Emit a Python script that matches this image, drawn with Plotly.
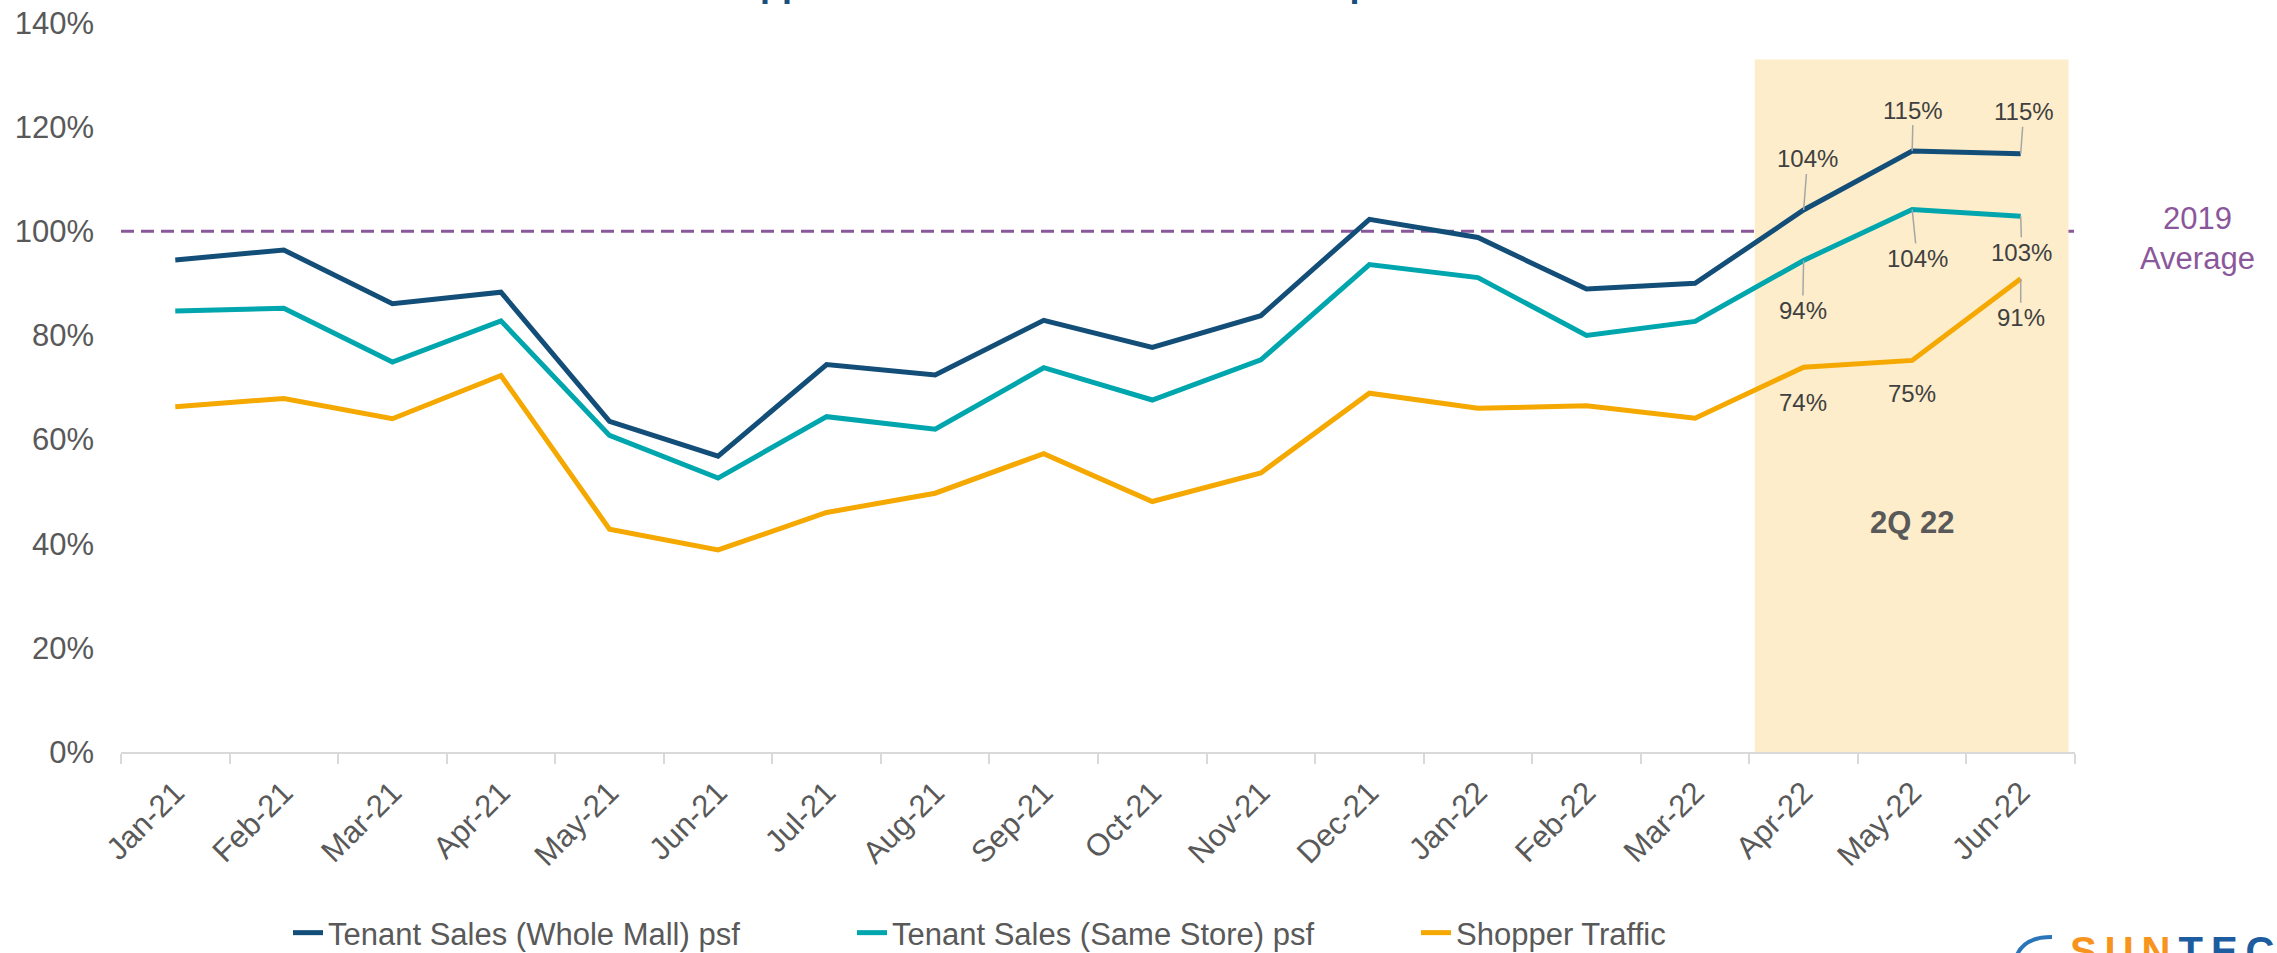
import plotly.graph_objects as go

# ---- data -------------------------------------------------------------
months = ["Jan-21", "Feb-21", "Mar-21", "Apr-21", "May-21", "Jun-21",
          "Jul-21", "Aug-21", "Sep-21", "Oct-21", "Nov-21", "Dec-21",
          "Jan-22", "Feb-22", "Mar-22", "Apr-22", "May-22", "Jun-22"]

# values as % of the 2019 monthly average
whole_mall = [94.5, 96.4, 86.1, 88.3, 63.5, 56.8, 74.4, 72.4, 82.9, 77.7,
              83.8, 102.3, 98.8, 88.9, 90.0, 104.1, 115.4, 114.9]
same_store = [84.7, 85.2, 74.9, 82.8, 60.8, 52.6, 64.4, 62.0, 73.8, 67.6,
              75.3, 93.6, 91.1, 80.0, 82.7, 94.4, 104.2, 102.9]
shopper_traffic = [66.3, 67.9, 64.0, 72.3, 42.8, 38.8, 46.0, 49.7, 57.3, 48.1,
                   53.6, 68.9, 66.0, 66.5, 64.1, 73.9, 75.2, 90.9]

average_2019 = 100
quarter_label = "2Q 22"
quarter_months = ["Apr-22", "May-22", "Jun-22"]

y_ticks = [0, 20, 40, 60, 80, 100, 120, 140]
y_tick_text = [f"{v}%" for v in y_ticks]

# ---- styling ----------------------------------------------------------
FONT = "Liberation Sans, Arial, sans-serif"
C_WHOLE = "#124E78"
C_SAME = "#00A6AD"
C_TRAFFIC = "#F5A800"
C_AVG = "#8B579B"
C_TEXT = "#595959"
C_LABEL = "#404040"
C_BAND = "#FDEDCB"

W, H = 2277, 953
M_L, M_R, M_T, M_B = 121, 202, 23, 201
PLOT_W = W - M_L - M_R
PLOT_H = H - M_T - M_B


def px_x(p):
    """pixel x -> paper x"""
    return (p - M_L) / PLOT_W


def px_y(p):
    """pixel y (from top) -> paper y"""
    return (H - M_B - p) / PLOT_H


series = [
    ("Tenant Sales (Whole Mall) psf", whole_mall, C_WHOLE),
    ("Tenant Sales (Same Store) psf", same_store, C_SAME),
    ("Shopper Traffic", shopper_traffic, C_TRAFFIC),
]

fig = go.Figure()
for name, vals, col in series:
    fig.add_trace(go.Scatter(
        x=months, y=vals, name=name, mode="lines",
        line=dict(color=col, width=5),
        hoverinfo="skip",
    ))

# value labels for the highlighted quarter: (ax, ay, leader line)
label_offsets = {
    "Tenant Sales (Whole Mall) psf": [(4, -51, True), (1, -41, True), (3, -42, True)],
    "Tenant Sales (Same Store) psf": [(-1, 50, True), (5, 49, True), (1, 36, True)],
    "Shopper Traffic": [(-1, 35, False), (0, 33, False), (0, 39, True)],
}

annotations = []
for name, vals, col in series:
    for m, (ax, ay, leader) in zip(quarter_months, label_offsets[name]):
        v = vals[months.index(m)]
        txt = f"{v:.0f}%"
        if leader:
            annotations.append(dict(
                x=m, y=v, xref="x", yref="y", text=txt,
                showarrow=True, arrowhead=0, arrowwidth=1.5,
                arrowcolor="#A6A6A6", ax=ax, ay=ay, standoff=0,
                font=dict(family=FONT, size=24, color=C_LABEL),
            ))
        else:
            annotations.append(dict(
                x=m, y=v, xref="x", yref="y", text=txt,
                showarrow=False, xshift=ax, yshift=-ay,
                font=dict(family=FONT, size=24, color=C_LABEL),
            ))

# 2019 average caption
annotations.append(dict(
    x=px_x(2197), y=average_2019, xref="paper", yref="y",
    xanchor="center", yanchor="middle",
    text="2019<br>Average", showarrow=False, yshift=-7,
    font=dict(family=FONT, size=31, color=C_AVG),
))

# quarter caption
annotations.append(dict(
    x="May-22", y=44, xref="x", yref="y", text=f"<b>{quarter_label}</b>",
    showarrow=False, font=dict(family=FONT, size=31, color=C_TEXT),
))

# chart heading (sits at the top edge of the page)
annotations.append(dict(
    x=px_x(690), y=px_y(-16), xref="paper", yref="paper",
    xanchor="left", yanchor="middle",
    text="<b>Shopper Traffic and Tenant Sales Comparison</b>",
    showarrow=False, font=dict(family=FONT, size=36, color="#1A4F7D"),
))

# brand mark, bottom right
annotations.append(dict(
    x=px_x(2068), y=px_y(927), xref="paper", yref="paper",
    xanchor="left", yanchor="top",
    text=("<b><span style='color:#F7941D'>S\u2009U\u2009N</span>\u2009"
          "<span style='color:#1D5C9E'>T\u2009E\u2009C</span></b>"),
    showarrow=False, font=dict(family=FONT, size=40, color="#1D5C9E"),
))

shapes = [
    # highlighted quarter band
    dict(type="rect", xref="x", yref="y", x0=14.55, x1=17.44, y0=0, y1=133,
         fillcolor=C_BAND, line=dict(width=0), layer="below"),
    # 2019 average reference line
    dict(type="line", xref="paper", yref="y", x0=0, x1=1,
         y0=average_2019, y1=average_2019,
         line=dict(color=C_AVG, width=3, dash="13px,7px"), layer="below"),
    # brand swoosh
    dict(type="path", xref="paper", yref="paper",
         path=(f"M {px_x(2016)},{px_y(958)} Q {px_x(2022)},{px_y(937)} "
               f"{px_x(2052)},{px_y(937)}"),
         line=dict(color="#2A74BA", width=4)),
]

fig.update_layout(
    width=W, height=H,
    margin=dict(l=M_L, r=M_R, t=M_T, b=M_B, pad=0, autoexpand=False),
    paper_bgcolor="white", plot_bgcolor="white",
    font=dict(family=FONT, color=C_TEXT),
    showlegend=True,
    legend=dict(
        orientation="h", x=px_x(288), xanchor="left",
        y=px_y(933), yanchor="middle",
        font=dict(family=FONT, size=31, color=C_TEXT),
        entrywidth=519, entrywidthmode="pixels",
        bgcolor="rgba(0,0,0,0)",
    ),
    xaxis=dict(
        type="category", categoryorder="array", categoryarray=months,
        range=[-0.5, len(months) - 0.5], automargin=False,
        showgrid=False, zeroline=False,
        showline=True, linecolor="#D9D9D9", linewidth=2,
        ticks="outside", tickson="boundaries", ticklen=10,
        tickcolor="#D9D9D9", tickwidth=2, ticklabelstandoff=8,
        tickangle=-45, tickfont=dict(family=FONT, size=31, color=C_TEXT),
    ),
    yaxis=dict(
        range=[0, 140], tickvals=y_ticks, ticktext=y_tick_text,
        automargin=False,
        showgrid=False, zeroline=False, showline=False,
        ticklabelstandoff=26,
        tickfont=dict(family=FONT, size=31, color=C_TEXT),
    ),
    annotations=annotations,
    shapes=shapes,
)

fig.write_html("out.html")
